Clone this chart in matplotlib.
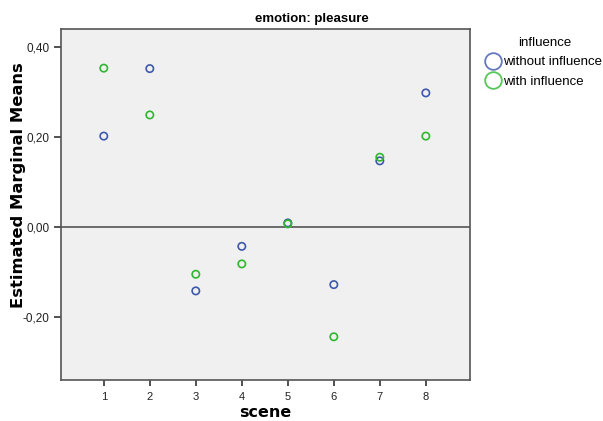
import numpy as np
import matplotlib
matplotlib.use("Agg")
import matplotlib.pyplot as plt
from matplotlib.lines import Line2D

# data
scenes = [1, 2, 3, 4, 5, 6, 7, 8]
without_influence = [0.202, 0.352, -0.142, -0.043, 0.009, -0.128, 0.147, 0.298]
with_influence = [0.353, 0.249, -0.105, -0.082, 0.007, -0.244, 0.155, 0.202]
series_names = ["without influence", "with influence"]
y_ticks = [-0.20, 0.00, 0.20, 0.40]

blue = "#3E58AC"
green = "#2EB82E"

plt.rcParams["font.family"] = ["Liberation Sans", "DejaVu Sans"]

fig = plt.figure(figsize=(6.03, 4.21), dpi=100)
ax = fig.add_axes([61 / 603, 1 - 380 / 421, 409 / 603, 351 / 421])
ax.set_facecolor("#F0F0F0")

ax.scatter(scenes, without_influence, s=28, facecolors="none",
           edgecolors=blue, linewidths=1.2, zorder=3)
ax.scatter(scenes, with_influence, s=28, facecolors="none",
           edgecolors=green, linewidths=1.2, zorder=3)

ax.axhline(0, color="#555555", lw=1.2, zorder=2)

ax.set_xlim(0.07, 8.96)
ax.set_ylim(-0.34, 0.44)
ax.set_xticks(scenes)
ax.set_yticks(y_ticks)
ax.set_yticklabels([f"{v:.2f}".replace(".", ",") for v in y_ticks])
ax.tick_params(axis="both", direction="out", length=5, width=1.2,
               color="#333333", labelsize=8.5, labelcolor="#222222")
ax.tick_params(axis="x", length=4, pad=5, labelsize=8)
for sp in ax.spines.values():
    sp.set_color("#555555")
    sp.set_linewidth(1.2)

ax.set_xlabel("scene", fontsize=11.5, fontweight="bold", family="DejaVu Sans")
ax.xaxis.label.set_va("baseline")
ax.xaxis.set_label_coords((265 - 61) / 409, -(417 - 380) / 351)
ax.set_ylabel("Estimated Marginal Means", fontsize=11.8, fontweight="bold",
              family="DejaVu Sans")
ax.yaxis.set_label_coords(-(61 - 26) / 409, (380 - 185) / 351)

fig.text(312 / 603, 1 - 19 / 421, "emotion: pleasure", ha="center", va="center",
         fontsize=9.5, fontweight="bold")

handles = [Line2D([], [], ls="none", marker="o", markersize=12, markerfacecolor="none",
                  markeredgecolor=c, markeredgewidth=1.3, alpha=0.8) for c in (blue, green)]
leg = fig.legend(handles, series_names, title="influence", loc="upper left",
                 bbox_to_anchor=(487 / 603, 1 - 37 / 421), frameon=False,
                 fontsize=9.5, title_fontsize=9.5, handlelength=0.9, handletextpad=0.35,
                 labelspacing=0.55, borderaxespad=0, borderpad=0)

fig.savefig("out.png", dpi=100)
